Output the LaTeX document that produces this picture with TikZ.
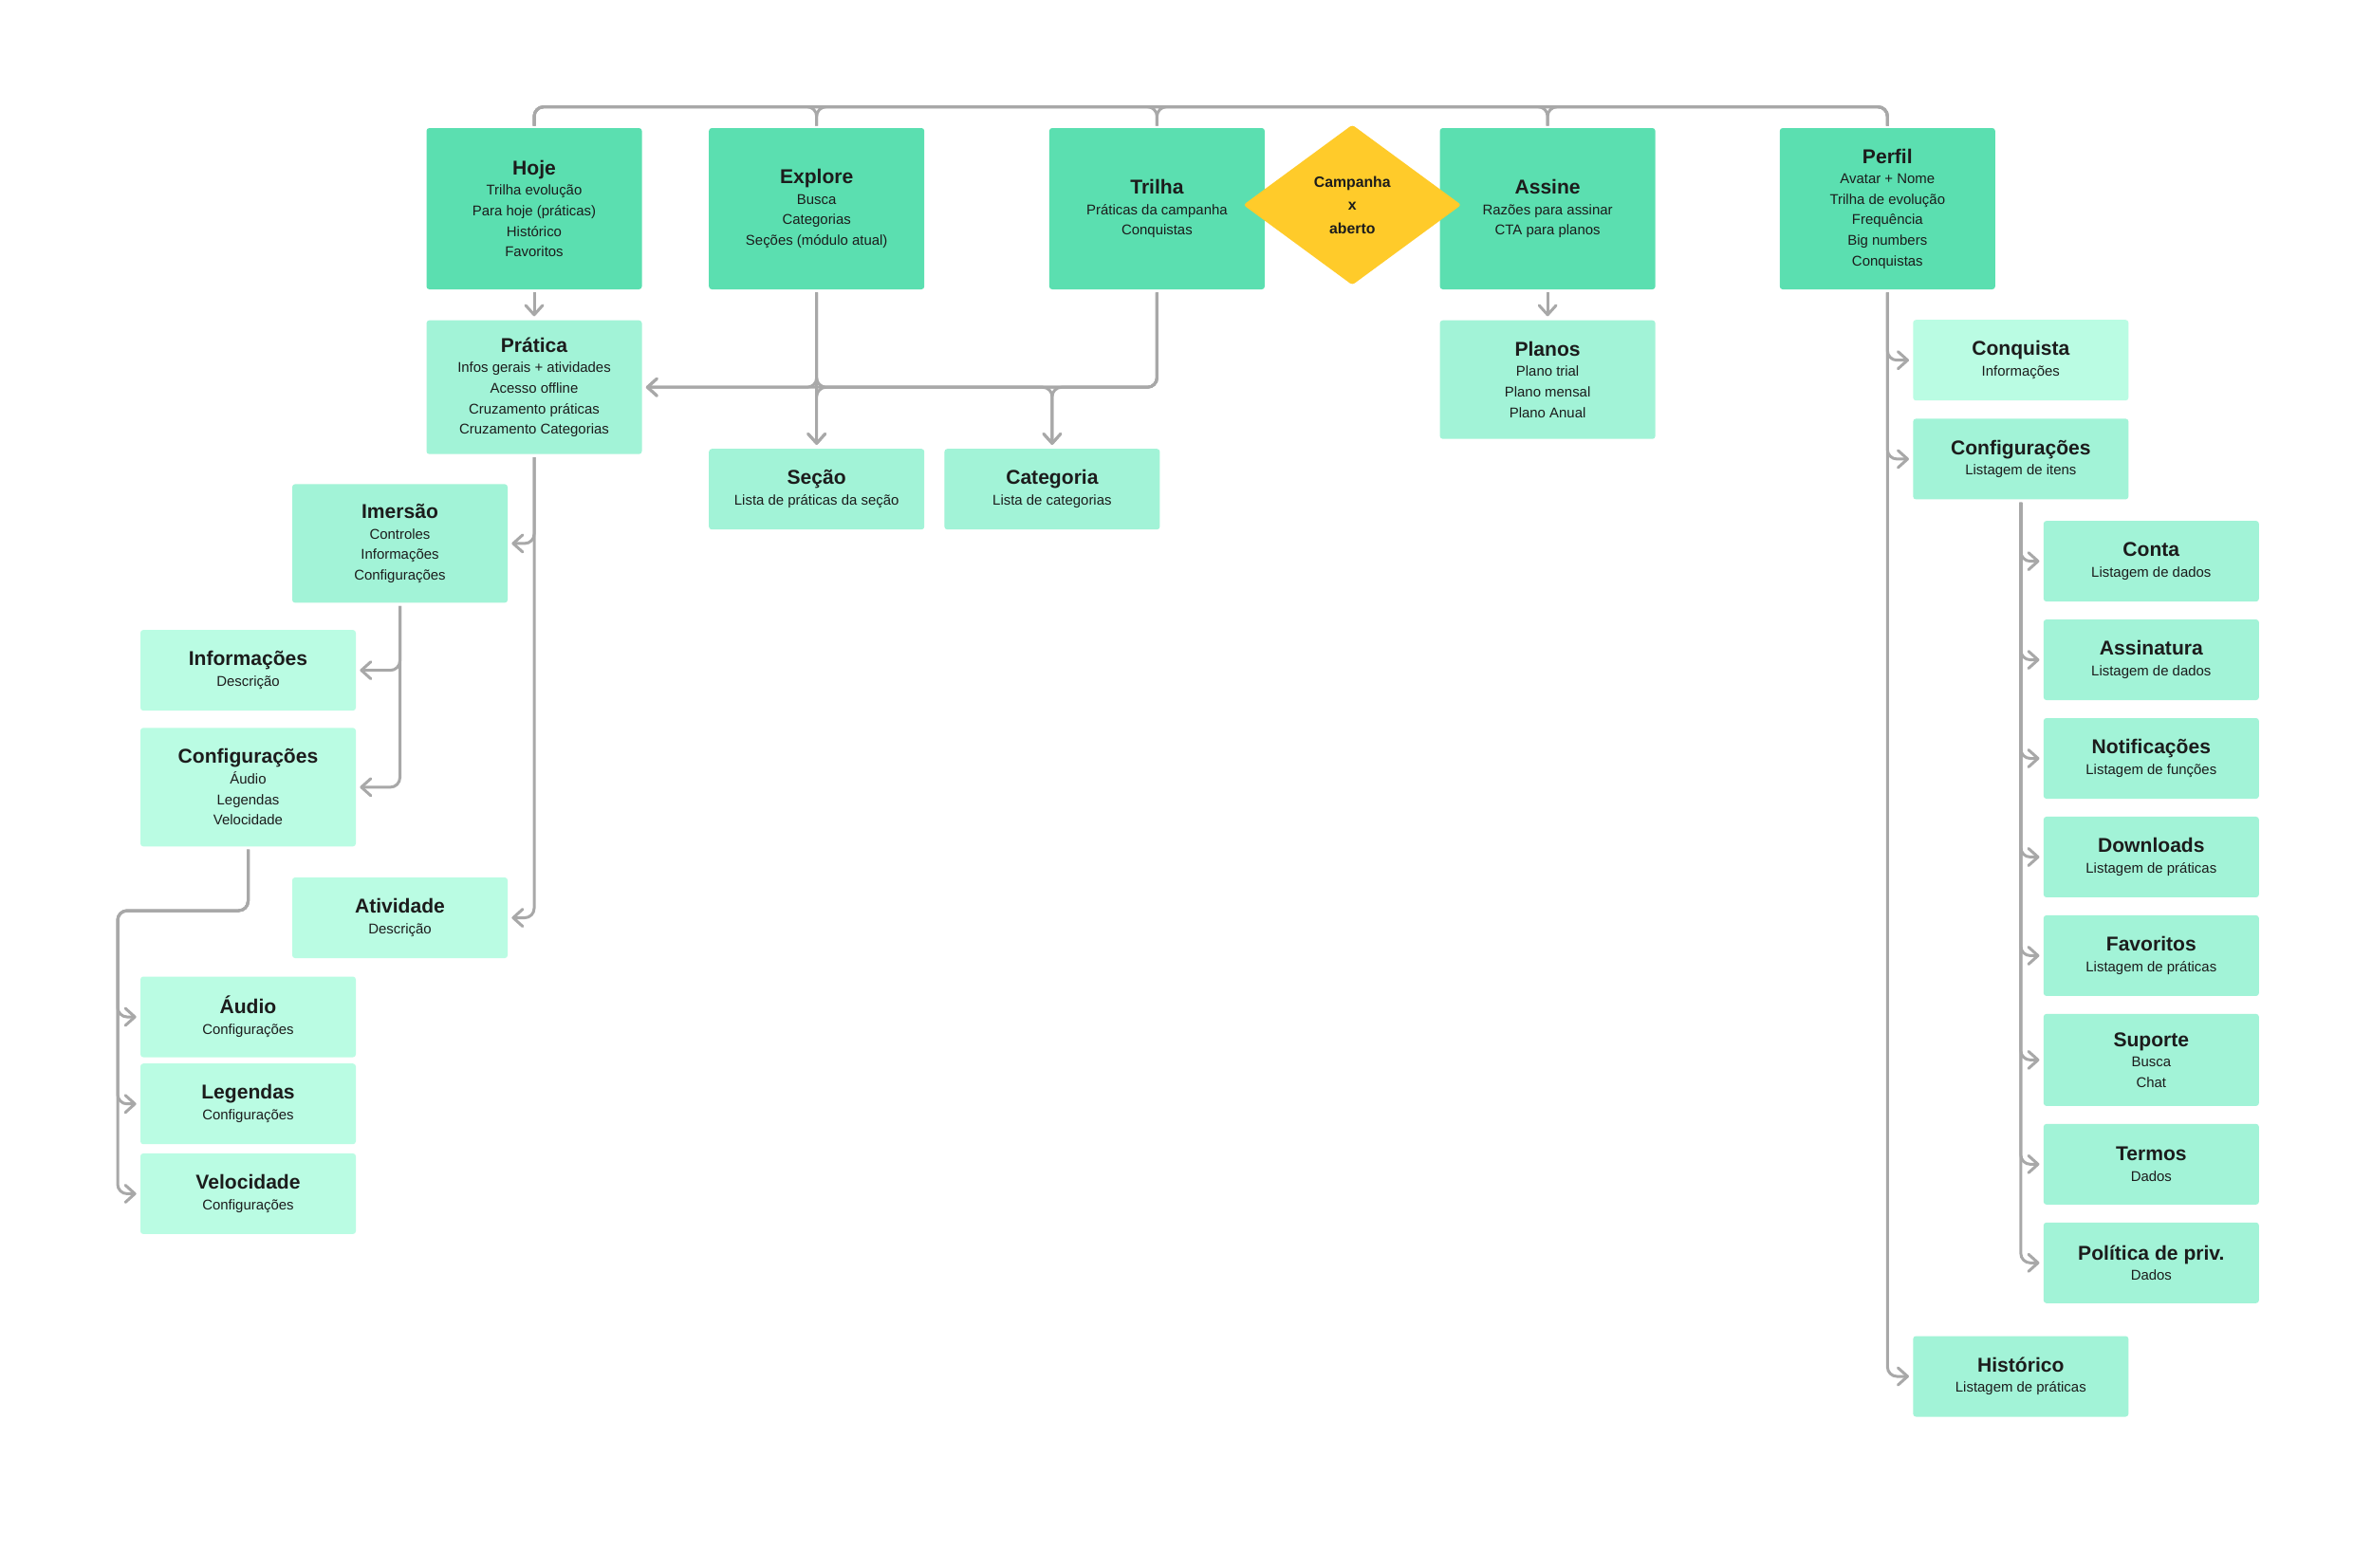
\documentclass[tikz,border=0pt]{standalone}
\usepackage{fontspec}
\setmainfont{Liberation Sans}
\usepackage{xcolor}
\usepackage{tikz}
\usetikzlibrary{positioning,arrows.meta,shapes.geometric,calc}

\definecolor{tabgreen}{HTML}{5BDFB0}
\definecolor{midgreen}{HTML}{A2F3D7}
\definecolor{lightgreen}{HTML}{BAFCE3}
\definecolor{gateyellow}{HTML}{FFCB2A}
\definecolor{wire}{HTML}{A8A8A8}
\definecolor{ink}{HTML}{1C1C1C}

\begin{document}
\begin{tikzpicture}[
  font=\fontsize{8.5}{12.3}\selectfont,
  every node/.style={align=center, text=ink},
  tabbox/.style={rounded corners=0.6mm, fill=tabgreen, minimum width=45.4mm, minimum height=34mm},
  scr/.style={rounded corners=0.6mm, fill=midgreen, minimum width=45.4mm, minimum height=17mm},
  leaf/.style={scr, fill=lightgreen},
  gate/.style={diamond, rounded corners=0.6mm, fill=gateyellow, minimum width=46mm, minimum height=33.8mm, inner sep=0pt, font=\fontsize{9}{13.9}\selectfont\bfseries},
  link/.style={wire, line width=0.6mm, rounded corners=2mm, shorten <=0.4mm, shorten >=0.4mm},
  flow/.style={link, shorten <=0.6mm, shorten >=0.8mm, -{Straight Barb[length=2mm,width=3.6mm,round]}}
]
\fill[white] (0,0) rectangle (50,-33.04);
\useasboundingbox (0,0) rectangle (50,-33.04);

% tabs
\node[tabbox] (hoje) at (11.26,-4.4) {{\large\bfseries Hoje}\\Trilha evolução\\Para hoje (práticas)\\Histórico\\Favoritos};
\node[tabbox, right=14mm of hoje] (explore) {{\large\bfseries Explore}\\Busca\\Categorias\\Seções (módulo atual)};
\node[tabbox, right=26.2mm of explore] (trilha) {{\large\bfseries Trilha}\\Práticas da campanha\\Conquistas};
\node[tabbox, right=36.8mm of trilha] (assine) {{\large\bfseries Assine}\\Razões para assinar\\CTA para planos};
\node[tabbox, right=26.1mm of assine] (perfil) {{\large\bfseries Perfil}\\Avatar + Nome\\Trilha de evolução\\Frequência\\Big numbers\\Conquistas};
\node[gate, yshift=0.8mm] (camp) at ($(trilha.east)!.5!(assine.west)$) {Campanha\\x\\aberto};

% second level
\node[scr, below=6.4mm of hoje, minimum height=28.2mm] (pratica) {{\large\bfseries Prática}\\Infos gerais + atividades\\Acesso offline\\Cruzamento práticas\\Cruzamento Categorias};
\node[scr, below=6.4mm of assine, minimum height=25mm] (planos) {{\large\bfseries Planos}\\Plano trial\\Plano mensal\\Plano Anual};
\node[scr, below=33.5mm of explore] (secao) {{\large\bfseries Seção}\\Lista de práticas da seção};
\node[scr, right=4.1mm of secao] (categ) {{\large\bfseries Categoria}\\Lista de categorias};

% pratica branch
\node[scr, below=6.2mm of pratica, xshift=-28.3mm, minimum height=25mm] (imersao) {{\large\bfseries Imersão}\\Controles\\Informações\\Configurações};
\node[leaf, below=5.6mm of imersao, xshift=-32mm] (info) {{\large\bfseries Informações}\\Descrição};
\node[leaf, below=3.5mm of info, minimum height=25mm] (cfgL) {{\large\bfseries Configurações}\\Áudio\\Legendas\\Velocidade};
\node[leaf, below=6.4mm of cfgL, xshift=32mm] (ativ) {{\large\bfseries Atividade}\\Descrição};
\node[leaf, below=27.3mm of cfgL] (audio) {{\large\bfseries Áudio}\\Configurações};
\node[leaf, below=1.2mm of audio] (leg) {{\large\bfseries Legendas}\\Configurações};
\node[leaf, below=1.8mm of leg] (veloc) {{\large\bfseries Velocidade}\\Configurações};

% perfil branch
\node[leaf, below=6.3mm of perfil, xshift=28.1mm] (conq) {{\large\bfseries Conquista}\\Informações};
\node[scr, below=3.7mm of conq] (cfgR) {{\large\bfseries Configurações}\\Listagem de itens};
\node[scr, below=4.4mm of cfgR, xshift=27.5mm] (conta) {{\large\bfseries Conta}\\Listagem de dados};
\node[scr, below=3.65mm of conta] (assin) {{\large\bfseries Assinatura}\\Listagem de dados};
\node[scr, below=3.65mm of assin] (notif) {{\large\bfseries Notificações}\\Listagem de funções};
\node[scr, below=3.65mm of notif] (down) {{\large\bfseries Downloads}\\Listagem de práticas};
\node[scr, below=3.65mm of down] (fav) {{\large\bfseries Favoritos}\\Listagem de práticas};
\node[scr, below=3.65mm of fav, minimum height=19.4mm] (sup) {{\large\bfseries Suporte}\\Busca\\Chat};
\node[scr, below=3.65mm of sup] (termos) {{\large\bfseries Termos}\\Dados};
\node[scr, below=3.65mm of termos] (polit) {{\large\bfseries Política de priv.}\\Dados};
\node[scr, below=6.8mm of polit, xshift=-27.5mm] (hist) {{\large\bfseries Histórico}\\Listagem de práticas};

% tab bar
\coordinate[above=4.4mm of hoje.north] (busL);
\coordinate[above=4.4mm of perfil.north] (busR);
\draw[link] (hoje.north) -- (busL) -- (busR) -- (perfil.north);
\foreach \n in {explore,trilha,assine} {
  \draw[link] (hoje.north) -- (busL) -| (\n.north);
  \draw[link] (perfil.north) -- (busR) -| (\n.north);
}

% flows
\draw[flow] (hoje.south) -- (pratica.north);
\draw[flow] (assine.south) -- (planos.north);
\draw[flow] (explore.south) -- (secao.north);
\draw[flow] (explore.south) |- (pratica.east);
\draw[flow] (explore.south) |- (pratica.east -| categ) -- (categ.north);
\draw[flow] (trilha.south) |- (pratica.east);
\foreach \n in {secao,categ} \draw[flow] (trilha.south) |- (pratica.east -| \n) -- (\n.north);

\foreach \n in {imersao,ativ} \draw[flow] (pratica.south) |- (\n.east);
\foreach \n in {info,cfgL} \draw[flow] (imersao.south) |- (\n.east);
\coordinate (cfgbus) at (2.48,-19.2);
\foreach \n in {audio,leg,veloc} \draw[flow] (cfgL.south) |- (cfgbus) |- (\n.west);

\foreach \n in {conq,cfgR,hist} \draw[flow] (perfil.south) |- (\n.west);
\foreach \n in {conta,assin,notif,down,fav,sup,termos,polit} \draw[flow] (cfgR.south) |- (\n.west);
\end{tikzpicture}
\end{document}
